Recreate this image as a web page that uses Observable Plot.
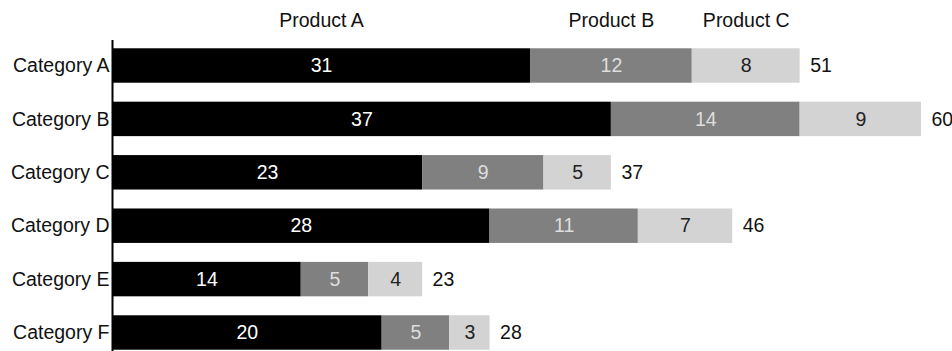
<!DOCTYPE html>
<html>
<head>
<meta charset="utf-8">
<script src="https://cdn.jsdelivr.net/npm/d3@7"></script>
<script src="https://cdn.jsdelivr.net/npm/@observablehq/plot@0.6"></script>
<style>
  html, body { margin: 0; padding: 0; background: #fff; overflow: hidden; }
  svg { font-family: "Liberation Sans", Arial, sans-serif; overflow: visible; }
</style>
</head>
<body>
<div id="chart"></div>
<script>
const categories = ["Category A", "Category B", "Category C", "Category D", "Category E", "Category F"];
const products = ["Product A", "Product B", "Product C"];
const productA = [31, 37, 23, 28, 14, 20];
const productB = [12, 14, 9, 11, 5, 5];
const productC = [8, 9, 5, 7, 4, 3];
const colors = ["#000000", "#808080", "#d3d3d3"];
const textColors = ["#ffffff", "#dedede", "#222222"];

const series = [productA, productB, productC];
const rows = [];
categories.forEach((c, i) => {
  products.forEach((p, j) => rows.push({category: c, product: p, value: series[j][i]}));
});
const totals = categories.map((c, i) => ({category: c, total: productA[i] + productB[i] + productC[i]}));
const headerRows = rows.filter(d => d.category === categories[0]);

const fs = "19.5px";
const chart = Plot.plot({
  width: 952,
  height: 351,
  marginLeft: 112,
  marginRight: 31,
  marginTop: 40,
  marginBottom: -7,
  style: {fontSize: fs, fontFamily: "'Liberation Sans', Arial, sans-serif"},
  x: {domain: [0, 60], axis: null},
  y: {domain: categories, paddingInner: 0.355, paddingOuter: 0.155, round: false, label: null, axis: null},
  color: {domain: products, range: colors},
  marks: [
    Plot.barX(rows, {y: "category", x: "value", fill: "product", order: products}),
    Plot.text(rows, Plot.stackX({y: "category", x: "value", z: "product", order: products, text: d => String(d.value),
      fill: d => textColors[products.indexOf(d.product)], fontSize: fs})),
    Plot.text(totals, {y: "category", x: "total", text: d => String(d.total), textAnchor: "start", dx: 10, fill: "#111", fontSize: fs}),
    Plot.text(headerRows, Plot.stackX({x: "value", z: "product", order: products, text: "product", frameAnchor: "top", lineAnchor: "middle", dy: -20, fill: "#111", fontSize: fs})),
    Plot.ruleX([0], {stroke: "#000", strokeWidth: 2}),
    Plot.axisY({tickSize: 0, tickPadding: 3, fontSize: fs, fill: "#111"})
  ]
});
document.getElementById("chart").append(chart);
</script>
</body>
</html>
